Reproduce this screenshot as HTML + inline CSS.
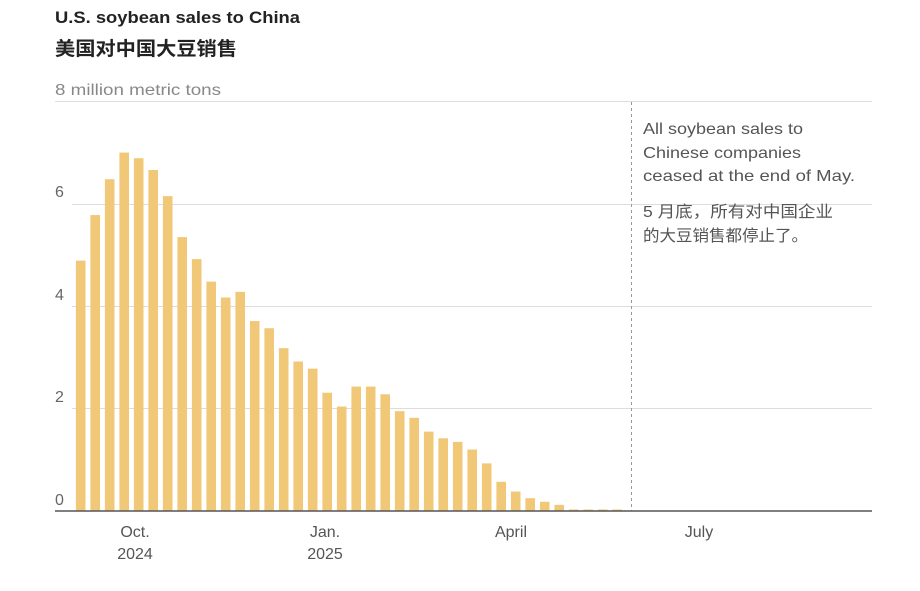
<!DOCTYPE html>
<html><head><meta charset="utf-8"><style>
body{margin:0;background:#fff;width:920px;height:586px;overflow:hidden;font-family:"Liberation Sans","Noto Sans CJK SC",sans-serif}
</style></head><body>
<svg width="920" height="586" xmlns="http://www.w3.org/2000/svg" font-family="Liberation Sans, Noto Sans CJK SC, sans-serif">
<text x="55" y="23" font-size="17" font-weight="bold" fill="#222" textLength="245" lengthAdjust="spacingAndGlyphs">U.S. soybean sales to China</text>
<text x="55" y="55" font-size="19" font-weight="bold" fill="#222" textLength="182" lengthAdjust="spacingAndGlyphs">美国对中国大豆销售</text>
<text x="55" y="95" font-size="16" fill="#888" textLength="166" lengthAdjust="spacingAndGlyphs">8 million metric tons</text>
<g stroke="#ddd" stroke-width="1">
<line x1="55" y1="101.5" x2="872" y2="101.5"/>
<line x1="72" y1="204.5" x2="872" y2="204.5"/>
<line x1="72" y1="306.5" x2="872" y2="306.5"/>
<line x1="72" y1="408.5" x2="872" y2="408.5"/>
</g>
<g font-size="16" fill="#666">
<text x="55" y="197">6</text><text x="55" y="300">4</text><text x="55" y="402">2</text><text x="55" y="505">0</text>
</g>
<g fill="#f0c878" id="bars"></g>
<line x1="631.5" y1="102" x2="631.5" y2="511" stroke="#999" stroke-dasharray="3,3"/>
<line x1="55" y1="511" x2="872" y2="511" stroke="#555" stroke-width="1.5"/>
<g font-size="16" fill="#555" lengthAdjust="spacingAndGlyphs">
<text x="643" y="134" textLength="160" lengthAdjust="spacingAndGlyphs">All soybean sales to</text>
<text x="643" y="158" textLength="158" lengthAdjust="spacingAndGlyphs">Chinese companies</text>
<text x="643" y="181" textLength="212" lengthAdjust="spacingAndGlyphs">ceased at the end of May.</text>
<text x="643" y="217" textLength="190" lengthAdjust="spacingAndGlyphs">5 月底，所有对中国企业</text>
<text x="643" y="241" textLength="165" lengthAdjust="spacingAndGlyphs">的大豆销售都停止了。</text>
</g>
<g font-size="16" fill="#555" text-anchor="middle">
<text x="135" y="537">Oct.</text><text x="135" y="559">2024</text>
<text x="325" y="537">Jan.</text><text x="325" y="559">2025</text>
<text x="511" y="537">April</text>
<text x="699" y="537">July</text>
</g>
</svg>
<script>
var v=[4.89,5.78,6.48,7.0,6.89,6.66,6.15,5.35,4.92,4.48,4.17,4.28,3.71,3.57,3.18,2.92,2.78,2.31,2.04,2.43,2.43,2.28,1.95,1.82,1.55,1.42,1.35,1.2,0.93,0.57,0.38,0.25,0.18,0.12,0.03,0.03,0.03,0.03];
var g=document.getElementById('bars'),s='';
v.forEach(function(d,i){var cx=80.7+i*14.5,h=d*51.2;s+='<rect x="'+(cx-4.8)+'" y="'+(511-h)+'" width="9.6" height="'+h+'"/>';});
g.innerHTML=s;
</script>
</body></html>
